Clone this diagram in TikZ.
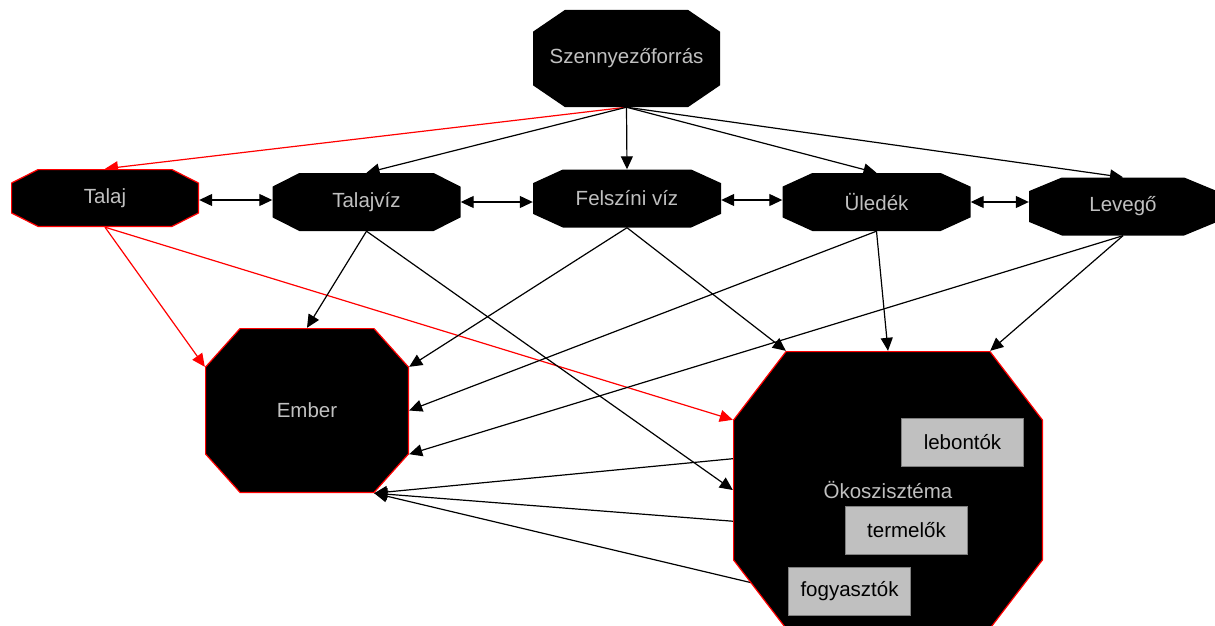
\documentclass[tikz,border=0pt]{standalone}
\usepackage{fontspec}
\setmainfont{Liberation Sans}
\usetikzlibrary{arrows.meta,calc}

\pgfdeclarelayer{edges}
\pgfsetlayers{edges,main}

\definecolor{labelgrey}{RGB}{192,192,192}
\definecolor{boxgrey}{RGB}{192,192,192}

\tikzset{
  % octagon drawn inside the node box: cut x, cut y, outline colour
  oct/.style n args={3}{
    inner sep=0pt, text=labelgrey,
    font=\fontsize{20.5}{24}\selectfont,
    path picture={
      \draw[draw=#3, line width=1.2pt, fill=black]
        ([shift={(#1,0.6)}]path picture bounding box.north west)
        -- ([shift={(-#1,0.6)}]path picture bounding box.north east)
        -- ([shift={(-0.6,#2)}]path picture bounding box.north east)
        -- ([shift={(-0.6,-#2)}]path picture bounding box.south east)
        -- ([shift={(-#1,-0.6)}]path picture bounding box.south east)
        -- ([shift={(#1,-0.6)}]path picture bounding box.south west)
        -- ([shift={(0.6,-#2)}]path picture bounding box.south west)
        -- ([shift={(0.6,#2)}]path picture bounding box.north west)
        -- cycle;
    }
  },
  medium/.style={minimum width=188pt, minimum height=58pt},
  part/.style={draw=gray, fill=boxgrey, text=black, inner sep=0pt,
    minimum width=122pt, minimum height=48pt,
    font=\fontsize{20.5}{24}\selectfont},
  arr/.style={line width=1.2pt, -{Triangle[length=13pt,width=12pt]}},
  both/.style={line width=1.2pt,
    {Triangle[length=13pt,width=12pt]}-{Triangle[length=13pt,width=12pt]}}
}

\begin{document}
\begin{tikzpicture}[x=1pt,y=-1pt]
  \useasboundingbox (0,0) rectangle (1215,626);

  % Source at the top
  \node[oct={32}{22}{black}, minimum width=187pt, minimum height=97pt]
    (forras) at (626.5,58.5) {Szennyezőforrás};

  % Middle row
  \node[oct={27}{14}{red}, medium] (talaj) at (105,198) {Talaj};
  \node[oct={27}{14}{black}, medium] (talajviz) at (366.5,202) {Talajvíz};
  \node[oct={30}{14}{black}, medium] (felszini) at (627,198.5) {Felszíni víz};
  \node[oct={30}{14}{black}, medium] (uledek) at (876.5,202) {Üledék};
  \node[oct={33}{14}{black}, medium] (levego) at (1123,206.5) {Levegő};

  % Receptors
  \node[oct={35}{39}{red}, minimum width=204pt, minimum height=165pt]
    (ember) at (307,410.5) {Ember};
  \node[oct={53}{69}{red}, minimum width=310pt, minimum height=278pt]
    (oko) at (888,490) {Ökoszisztéma};
  \node[part] (lebontok) at (962.5,442.5) {lebontók};
  \node[part] (termelok) at (906.5,530) {termelők};
  \node[part] (fogyasztok) at (849.5,591.5) {fogyasztók};

  \begin{pgfonlayer}{edges}
    % from the source
    \draw[arr, red] (forras.south) -- (talaj.north);
    \foreach \t in {talajviz,felszini,uledek,levego}
      \draw[arr] (forras.south) -- (\t.north);

    % exchange between the media
    \draw[both] ([yshift=-2pt]talaj.east) -- ([yshift=-2pt]talaj.east -| talajviz.west);
    \draw[both] (talajviz.east) -- (talajviz.east -| felszini.west);
    \draw[both] ([yshift=-1.5pt]felszini.east) -- ([yshift=-1.5pt]felszini.east -| uledek.west);
    \draw[both] (uledek.east) -- (uledek.east -| levego.west);

    % media to receptors
    \draw[arr, red] (talaj.south) -- ($(ember.north west)+(0,39)$);
    \draw[arr, red] (talaj.south) -- ($(oko.north west)+(0,69)$);
    \draw[arr] (talajviz.south) -- (ember.north);
    \draw[arr] (talajviz.south) -- (oko.west);
    \draw[arr] (felszini.south) -- ($(ember.north east)+(0,39)$);
    \draw[arr] (felszini.south) -- ($(oko.north west)+(53,0)$);
    \draw[arr] (uledek.south) -- (ember.east);
    \draw[arr] (uledek.south) -- (oko.north);
    \draw[arr] (levego.south) -- ($(ember.south east)+(0,-39)$);
    \draw[arr] (levego.south) -- ($(oko.north east)+(-53,0)$);

    % ecosystem parts to humans
    \foreach \p in {lebontok,termelok,fogyasztok}
      \draw[arr] (\p.west) -- ($(ember.south east)+(-35,0)$);
  \end{pgfonlayer}
\end{tikzpicture}
\end{document}
